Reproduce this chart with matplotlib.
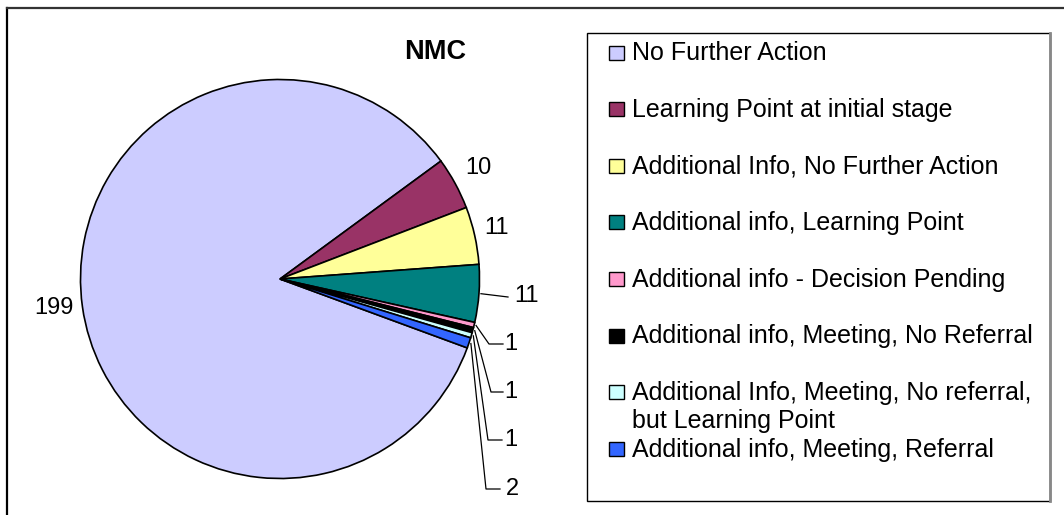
import numpy as np
import matplotlib
matplotlib.use('Agg')
import matplotlib.pyplot as plt
from matplotlib.patches import Rectangle

plt.rcParams['font.family'] = ['Liberation Sans', 'DejaVu Sans']

categories = ['No Further Action',
              'Learning Point at initial stage',
              'Additional Info, No Further Action',
              'Additional info, Learning Point',
              'Additional info - Decision Pending',
              'Additional info, Meeting, No Referral',
              'Additional Info, Meeting, No referral,\nbut Learning Point',
              'Additional info, Meeting, Referral']
counts = [199, 10, 11, 11, 1, 1, 1, 2]
colors = ['#CCCCFF', '#993366', '#FFFF99', '#008080',
          '#FF99CC', '#000000', '#CCFFFF', '#3366FF']
title = 'NMC'

# canvas in pixel units, y pointing down
W, H = 1064, 515
fig = plt.figure(figsize=(W / 100, H / 100), dpi=100)
ax = fig.add_axes([0, 0, 1, 1])

cx, cy, R = 280, 279, 199.5
wedges, _ = ax.pie(counts, colors=colors, startangle=20.2, counterclock=True,
                   center=(cx, cy), radius=R,
                   wedgeprops=dict(edgecolor='black', linewidth=1.2))
ax.set_xlim(0, W)
ax.set_ylim(H, 0)
ax.axis('off')

# value labels: text centre and leader line points after the wedge edge
label_pos = [(54, 308), (478, 168), (497, 228), (527, 296),
             (511, 344), (511, 392), (511, 440), (512, 489)]
leaders = [None, None, None,
           [(508, 297)],
           [(489, 344), (503, 344)],
           [(491, 392), (503, 392)],
           [(488, 440), (502, 440)],
           [(486, 489), (500, 489)]]

for w, v, (tx, ty), pts in zip(wedges, counts, label_pos, leaders):
    if pts is not None:
        mid = np.deg2rad((w.theta1 + w.theta2) / 2)
        x0 = cx + R * 1.01 * np.cos(mid)
        y0 = cy + R * 1.01 * np.sin(mid)
        xs = [x0] + [p[0] for p in pts]
        ys = [y0] + [p[1] for p in pts]
        ax.plot(xs, ys, color='black', lw=0.9)
    ax.text(tx, ty, str(v), ha='center', va='center', fontsize=17)

ax.text(435, 52, title, ha='center', va='center', fontsize=19.5, fontweight='bold')

# outer chart frame
ax.plot([6.5, 6.5], [7.5, H + 5], color='black', lw=1.6)
ax.plot([6.5, W + 5], [7.5, 7.5], color='#333333', lw=1.6)

# legend box
ax.add_patch(Rectangle((586.7, 33.3), 462.8, 467.4, facecolor='white',
                       edgecolor='black', lw=1.0))
ax.plot([1049.5, 1049.5], [33.3, 500.7], color='#888888', lw=2)

row0, step = 50.5, 56.6
for i, (lab, col) in enumerate(zip(categories, colors)):
    yc = row0 + i * step
    ax.add_patch(Rectangle((609.3, yc - 5), 14.5, 14, facecolor=col,
                           edgecolor='black', lw=1.0))
    ax.text(632, yc - 9, lab, ha='left', va='top', fontsize=18, linespacing=1.22)

fig.savefig('out.png', dpi=100)
